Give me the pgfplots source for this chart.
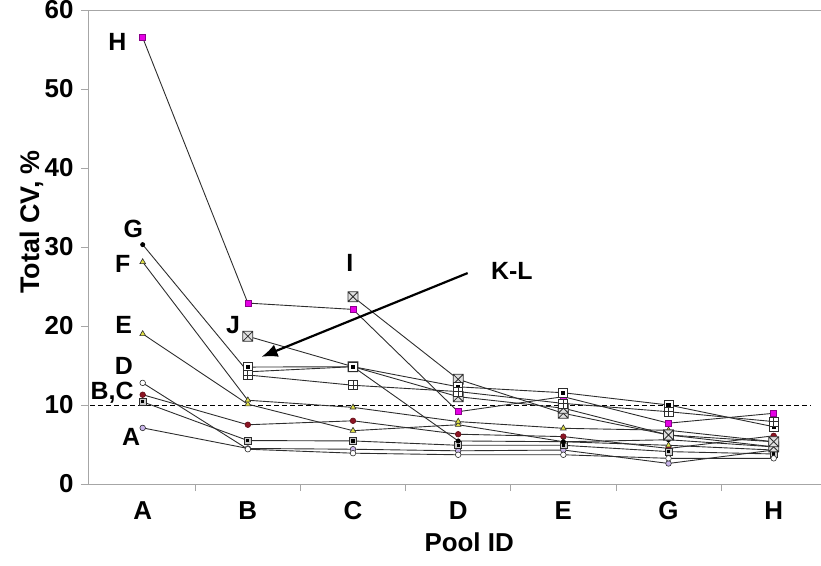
\documentclass[border=0pt]{standalone}
\usepackage{pgfplots}
\pgfplotsset{compat=1.18}
\usetikzlibrary{arrows.meta}
\usepackage{fontspec}
\setmainfont{Liberation Sans}
\definecolor{lav}{RGB}{200,180,235}
\definecolor{dred}{RGB}{140,20,35}
\definecolor{yel}{RGB}{225,225,70}
\definecolor{mag}{RGB}{230,0,230}
\definecolor{ln}{RGB}{45,45,45}
\pgfdeclareplotmark{boxx}{%
  \pgfpathrectangle{\pgfpoint{-\pgfplotmarksize}{-\pgfplotmarksize}}{\pgfpoint{2\pgfplotmarksize}{2\pgfplotmarksize}}%
  \pgfpathmoveto{\pgfpoint{-\pgfplotmarksize}{-\pgfplotmarksize}}\pgfpathlineto{\pgfpoint{\pgfplotmarksize}{\pgfplotmarksize}}%
  \pgfpathmoveto{\pgfpoint{-\pgfplotmarksize}{\pgfplotmarksize}}\pgfpathlineto{\pgfpoint{\pgfplotmarksize}{-\pgfplotmarksize}}%
  \pgfusepathqfillstroke}
\pgfdeclareplotmark{boxplus}{%
  \pgfpathrectangle{\pgfpoint{-\pgfplotmarksize}{-\pgfplotmarksize}}{\pgfpoint{2\pgfplotmarksize}{2\pgfplotmarksize}}%
  \pgfpathmoveto{\pgfpoint{0pt}{-\pgfplotmarksize}}\pgfpathlineto{\pgfpoint{0pt}{\pgfplotmarksize}}%
  \pgfpathmoveto{\pgfpoint{-\pgfplotmarksize}{0pt}}\pgfpathlineto{\pgfpoint{\pgfplotmarksize}{0pt}}%
  \pgfusepathqfillstroke}
\pgfdeclareplotmark{boxdot}{%
  \pgfpathrectangle{\pgfpoint{-\pgfplotmarksize}{-\pgfplotmarksize}}{\pgfpoint{2\pgfplotmarksize}{2\pgfplotmarksize}}%
  \pgfusepathqfillstroke
  \begin{pgfscope}%
  \pgfpathrectangle{\pgfpoint{-0.45\pgfplotmarksize}{-0.45\pgfplotmarksize}}{\pgfpoint{0.9\pgfplotmarksize}{0.9\pgfplotmarksize}}%
  \pgfsetfillcolor{black}\pgfusepathqfill
  \end{pgfscope}}
\begin{document}
\begin{tikzpicture}
\begin{axis}[
  scale only axis, width=733bp, height=474bp,
  at={(0,0)}, anchor=south west,
  xmin=-0.52, xmax=6.45, ymin=0, ymax=60,
  axis x line*=bottom, axis y line*=left,
  axis line style={gray!70, line width=1pt},
  xtick={0,1,2,3,4,5,6},
  xticklabels={A,B,C,D,E,G,H},
  minor xtick={0.5,1.5,2.5,3.5,4.5,5.5},
  major x tick style={draw=none},
  minor x tick style={gray!70, line width=0.8pt},
  ytick={0,10,...,60},
  y tick style={gray!70, line width=0.8pt},
  tick align=outside, major tick length=7bp, minor tick length=7bp,
  /pgf/number format/assume math mode=true,
  tick label style={font=\fontsize{26}{30}\selectfont\bfseries},
  yticklabel style={xshift=-4bp},
  xticklabel style={yshift=-7bp},
  label style={font=\fontsize{26}{30}\selectfont\bfseries},
  xlabel={Pool ID},
  ylabel={Total CV, \%},
  xlabel style={at={(axis description cs:0.52,-0.122)}, anchor=center},
  ylabel style={at={(axis description cs:-0.077,0.553)}, anchor=center, font=\fontsize{27}{30}\selectfont\bfseries},
  every axis plot/.append style={color=ln, line width=0.9pt},
  clip=false,
]
% top border line
\draw[gray!70, line width=1pt] (rel axis cs:0,1) -- (rel axis cs:1,1);
% dashed reference line
\addplot[black, dashed, line width=1pt, dash pattern=on 5bp off 3bp, mark=none] coordinates {(-0.5,10) (6.35,10)};
% A
\addplot[mark=*, mark size=2.8bp, mark options={fill=lav, draw=ln, line width=0.6pt}] coordinates {(0,7.1) (1,4.5) (2,4.4) (3,4.2) (4,4.3) (5,2.6) (6,4.3)};
% B
\addplot[mark=*, mark size=2.8bp, mark options={fill=dred, draw=dred!70!black, line width=0.6pt}] coordinates {(0,11.3) (1,7.5) (2,8.0) (3,6.3) (4,6.0) (5,4.5) (6,6.1)};
% C
\addplot[mark=boxdot, mark size=3.5bp, mark options={fill=gray!40, draw=ln, line width=0.6pt}] coordinates {(0,10.4) (1,5.5) (2,5.45) (3,4.9) (4,4.9) (5,4.1) (6,3.8)};
% D
\addplot[mark=*, mark size=2.8bp, mark options={fill=white, draw=ln, line width=0.6pt}] coordinates {(0,12.8) (1,4.4) (2,3.9) (3,3.7) (4,3.7) (5,3.25) (6,3.25)};
% E
\addplot[mark=triangle*, mark size=3.3bp, mark options={fill=yel, draw=ln, line width=0.6pt}] coordinates {(0,19.0) (1,10.1) (2,6.75) (3,7.5) (4,5.35) (5,4.9) (6,4.3)};
% F
\addplot[mark=triangle*, mark size=3.3bp, mark options={fill=yel, draw=ln, line width=0.6pt}] coordinates {(0,28.1) (1,10.6) (2,9.7) (3,7.9) (4,7.05) (5,6.8) (6,5.35)};
% G
\addplot[mark=*, mark size=2bp, mark options={fill=black, draw=black}] coordinates {(0,30.3) (1,14.2) (2,14.85) (3,5.45) (4,5.35) (5,5.6) (6,4.7)};
% H
\addplot[mark=square*, mark size=3bp, mark options={fill=mag, draw=mag!60!black, line width=0.5pt}] coordinates {(0,56.5) (1,22.9) (2,22.1) (3,9.15) (4,11.05) (5,7.7) (6,8.95)};
% I
\addplot[mark=boxx, mark size=5bp, mark options={fill=gray!25, draw=ln, line width=0.8pt}] coordinates {(2,23.7) (3,13.25) (4,8.95) (5,6.2) (6,4.7)};
% J
\addplot[mark=boxx, mark size=5bp, mark options={fill=gray!25, draw=ln, line width=0.8pt}] coordinates {(1,18.7) (2,14.85) (3,11.05) (4,9.6) (5,6.2) (6,5.35)};
% K
\addplot[mark=boxdot, mark size=4.5bp, mark options={fill=white, draw=ln, line width=0.8pt}] coordinates {(1,14.8) (2,14.85) (3,12.3) (4,11.55) (5,10.0) (6,7.25)};
% L
\addplot[mark=boxplus, mark size=4.5bp, mark options={fill=white, draw=ln, line width=0.8pt}] coordinates {(1,13.8) (2,12.5) (3,11.7) (4,10.2) (5,9.15) (6,7.9)};
% labels
\begin{scope}[every node/.style={font=\fontsize{25}{30}\selectfont\bfseries, text=black}]
\node at (axis cs:-0.24,55.9) {H};
\node at (axis cs:-0.09,32.3) {G};
\node at (axis cs:-0.19,27.8) {F};
\node at (axis cs:-0.18,20.1) {E};
\node at (axis cs:-0.18,14.9) {D};
\node at (axis cs:-0.29,11.6) {B,C};
\node at (axis cs:-0.11,5.9) {A};
\node at (axis cs:0.86,20.1) {J};
\node at (axis cs:1.97,28.0) {I};
\node at (axis cs:3.51,27.0) {K-L};
\end{scope}
\draw[black, line width=2.2pt, -{Latex[length=16bp,width=13bp]}] (axis cs:3.09,26.7) -- (axis cs:1.13,16.1);
\end{axis}
\pgfresetboundingbox
\useasboundingbox (-88bp,-82bp) rectangle (733bp,484bp);
\end{tikzpicture}
\end{document}
